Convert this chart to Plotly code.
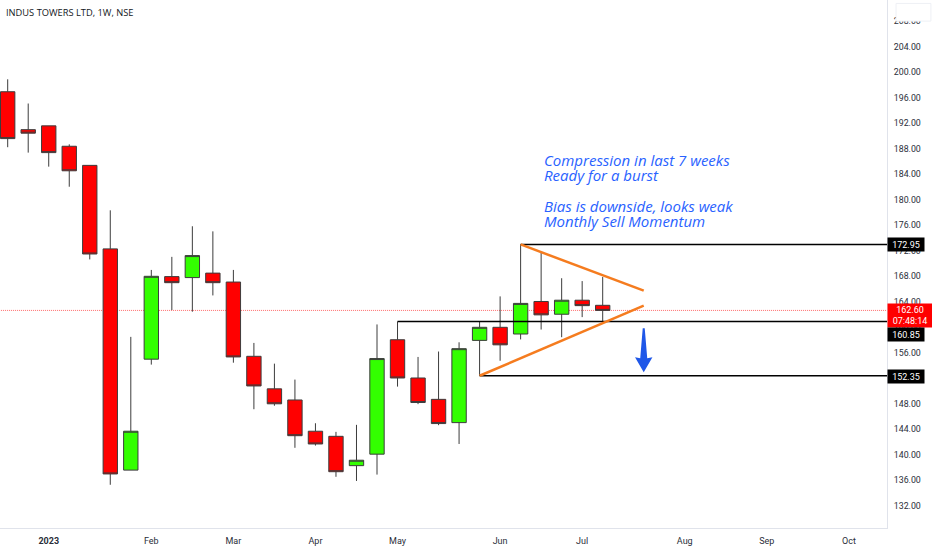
import plotly.graph_objects as go

dates = ["2022-12-19","2022-12-26","2023-01-02","2023-01-09","2023-01-16","2023-01-23","2023-01-30",
         "2023-02-06","2023-02-13","2023-02-20","2023-02-27","2023-03-06","2023-03-13","2023-03-20",
         "2023-03-27","2023-04-03","2023-04-10","2023-04-17","2023-04-24","2023-05-01","2023-05-08",
         "2023-05-15","2023-05-22","2023-05-29","2023-06-05","2023-06-12","2023-06-19","2023-06-26",
         "2023-07-03","2023-07-10"]
opens = [196.9,190.95,191.55,188.35,185.35,172.25,137.55,154.95,167.9,167.75,168.45,167.05,155.4,150.3,
         148.55,143.65,142.85,138.25,140.05,158.0,152.0,148.65,145.0,157.9,159.95,158.9,164.0,162.0,164.2,163.4]
highs = [198.85,195.05,191.55,188.65,185.35,178.3,158.45,168.95,171.0,175.8,175.0,168.95,157.5,154.25,
         151.75,144.9,143.55,144.65,160.4,160.85,155.3,156.15,157.6,160.85,164.8,172.95,171.8,167.65,167.2,167.85]
lows = [188.2,187.35,185.15,182.0,170.6,135.25,137.55,154.1,162.65,162.4,164.95,154.4,147.1,147.65,
        141.05,141.4,136.5,135.85,136.85,150.65,147.9,144.6,141.65,152.35,154.7,158.05,159.6,158.4,161.55,160.75]
closes = [189.55,190.4,187.35,184.5,171.45,136.95,143.65,167.95,166.95,171.2,166.95,155.3,150.75,147.95,
          142.95,141.65,137.3,139.1,155.05,152.0,148.15,144.85,156.6,159.95,157.2,163.7,161.9,164.2,163.35,162.6]

y_ticks = [132,136,140,144,148,152,156,160,164,168,172,176,180,184,188,192,196,200,204,208]
x_tick_dates = ["2023-01-02","2023-02-06","2023-03-06","2023-04-03","2023-05-01","2023-06-05","2023-07-03",
                "2023-08-07","2023-09-04","2023-10-02"]
x_tick_labels = ["<b>2023</b>","Feb","Mar","Apr","May","Jun","Jul","Aug","Sep","Oct"]

levels = [("2023-06-12", 172.95), ("2023-05-01", 160.85), ("2023-05-29", 152.35)]
last_price = 162.60
x_end = "2023-10-15"
note_lines = ["Compression in last 7 weeks", "Ready for a burst", "Bias is downside, looks weak", "Monthly Sell Momentum"]
note_levels = [186.2, 183.84, 178.98, 176.63]

TXT = "#2a2e39"
fig = go.Figure(go.Candlestick(
    x=dates, open=opens, high=highs, low=lows, close=closes,
    increasing=dict(fillcolor="#33ff00", line=dict(color="#3c3c3c", width=1)),
    decreasing=dict(fillcolor="#ff0000", line=dict(color="#3c3c3c", width=1)),
    whiskerwidth=0, showlegend=False))

shapes = [dict(type="line", xref="x", yref="y", x0="2022-12-01", x1=x_end, y0=last_price, y1=last_price,
               line=dict(color="#ff3030", width=1, dash="1px,1px"), opacity=0.7, layer="below")]
for d, v in levels:
    shapes.append(dict(type="line", xref="x", yref="y", x0=d, x1=x_end, y0=v, y1=v,
                       line=dict(color="#000000", width=1.6)))
shapes.append(dict(type="line", xref="x", yref="y", x0="2023-06-12", x1="2023-07-24", y0=172.95, y1=165.7,
                   line=dict(color="#f57c1f", width=2.5)))
shapes.append(dict(type="line", xref="x", yref="y", x0="2023-05-29", x1="2023-07-24", y0=152.35, y1=163.35,
                   line=dict(color="#f57c1f", width=2.5)))
shapes.append(dict(type="path", xref="x", yref="y", xsizemode="pixel", ysizemode="pixel",
                   xanchor="2023-07-24", yanchor=152.9,
                   path="M0,0 L8.7,15 L3.5,14 L1,44 L-1,44 L-3.5,14 L-8.7,15 Z",
                   fillcolor="#1f57e8", line=dict(width=0)))
# white box over the top tick of the price scale
shapes.append(dict(type="rect", xref="paper", yref="paper", x0=1.0102, x1=1.0495, y0=0.9935, y1=0.96,
                   fillcolor="white", line=dict(color="#eef0f5", width=1)))

def price_label(text, v, yshift, width=34, height=11, bg="#000000"):
    return dict(xref="paper", yref="y", x=1, y=v, xanchor="left", yanchor="middle", text=text,
                showarrow=False, bgcolor=bg, width=width, height=height, borderpad=1, align="center",
                yshift=yshift, font=dict(family="Roboto", size=9, color="white"))

annotations = [
    dict(xref="paper", yref="paper", x=0, y=1, xanchor="left", yanchor="top", xshift=4, yshift=-4,
         text="INDUS TOWERS LTD, 1W, NSE", showarrow=False,
         font=dict(family="Open Sans", size=9.3, color="#131722")),
    price_label("172.95", 172.95, 0),
    price_label("152.35", 152.35, -0.5),
    price_label("162.60<br>07:48:14", last_price, -5, width=42, height=21, bg="#ff0000"),
    price_label("160.85", 160.85, -12.5),
]
for line, level in zip(note_lines, note_levels):
    annotations.append(dict(xref="x", yref="y", x="2023-06-20", y=level, xanchor="left", yanchor="middle",
                            text="<i>" + line + "</i>", showarrow=False, borderpad=0, xshift=-1,
                            font=dict(family="Open Sans", size=15, color="#2962ff")))

fig.update_layout(
    width=932, height=550, autosize=False,
    margin=dict(l=0, r=45, t=0, b=22),
    paper_bgcolor="white", plot_bgcolor="white",
    boxgap=0.3, boxgroupgap=0,
    shapes=shapes, annotations=annotations,
    font=dict(family="Roboto", size=9, color=TXT),
    xaxis=dict(type="date", range=["2022-12-16 09:00", x_end], rangeslider=dict(visible=False),
               tickmode="array", tickvals=x_tick_dates, ticktext=x_tick_labels, showgrid=False, zeroline=False,
               showline=True, linecolor="#e0e3eb", linewidth=1, ticks="outside", ticklen=4, tickcolor="white",
               tickfont=dict(family="Roboto", size=9, color=TXT), automargin=False),
    yaxis=dict(side="right", range=[128.47, 211.29], tickmode="array", tickvals=y_ticks,
               ticktext=[f"{t:.2f}" for t in y_ticks], showgrid=False, zeroline=False,
               showline=True, linecolor="#e0e3eb", linewidth=1, ticks="outside", ticklen=4, tickcolor="white",
               tickfont=dict(family="Roboto", size=8.8, color=TXT), automargin=False),
)
fig.write_html("out.html", config=dict(displayModeBar=False),
               post_script="document.body.style.margin='0';document.body.style.overflow='hidden';")
